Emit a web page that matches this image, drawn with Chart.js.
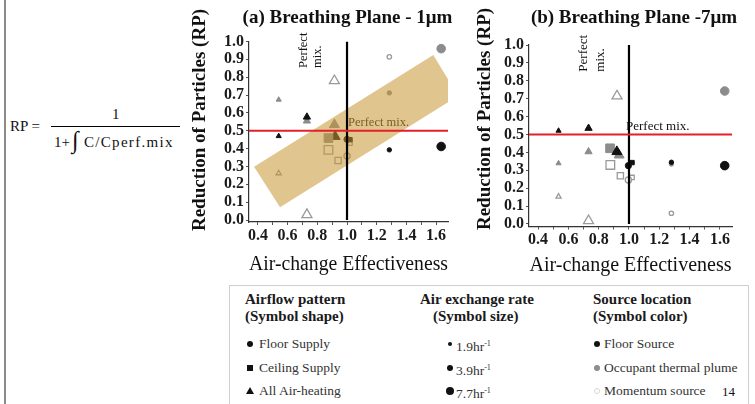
<!DOCTYPE html>
<html>
<head>
<meta charset="utf-8">
<script src="https://cdn.jsdelivr.net/npm/chart.js@4.4.1/dist/chart.umd.min.js"></script>
<style>
  body { margin: 0; background: #fff; }
  #page { position: relative; width: 755px; height: 404px; overflow: hidden; font-family: "Liberation Serif", "Times New Roman", serif; color: #111; }
  .abs { position: absolute; white-space: nowrap; }
  .hd { font-weight: bold; font-size: 15px; line-height: 18px; color: #1a1a1a; }
  .it { font-size: 13.5px; line-height: 16px; color: #333; }
  .mk { position: absolute; }
  sup { font-size: 8px; vertical-align: 5px; }
</style>
</head>
<body>
<div id="page">
  <div class="abs" style="left:4px;top:0;width:2px;height:404px;background:#8a8a8a"></div>

  <!-- RP formula -->
  <div class="abs" style="left:10px;top:117px;font-size:15px;line-height:18px">RP =</div>
  <div class="abs" style="left:112px;top:105px;font-size:15px;line-height:18px">1</div>
  <div class="abs" style="left:51px;top:126px;width:129px;height:1px;background:#000"></div>
  <div class="abs" style="left:54px;top:133px;font-size:15px;line-height:18px">1+</div>
  <div class="abs" style="left:72px;top:126px;font-size:24px;line-height:28px">∫</div>
  <div class="abs" style="left:84px;top:133px;font-size:15px;line-height:18px;letter-spacing:1.3px">C/Cperf.mix</div>

  <div class="abs" style="left:190px;top:0;width:275px;height:285px"><canvas id="chartA"></canvas></div>
  <div class="abs" style="left:470px;top:0;width:285px;height:285px"><canvas id="chartB"></canvas></div>

  <!-- legend -->
  <div class="abs" style="left:229px;top:285px;width:518px;height:130px;border:1px solid #cfcfcf"></div>
  <div class="abs hd" style="left:245px;top:290px">Airflow pattern</div>
  <div class="abs hd" style="left:245px;top:307px">(Symbol shape)</div>
  <div class="abs hd" style="left:420px;top:290px">Air exchange rate</div>
  <div class="abs hd" style="left:433px;top:307px">(Symbol size)</div>
  <div class="abs hd" style="left:593px;top:290px">Source location</div>
  <div class="abs hd" style="left:593px;top:307px">(Symbol color)</div>

  <div class="mk" style="left:247px;top:341px;width:6px;height:6px;border-radius:50%;background:#111"></div>
  <div class="abs it" style="left:259px;top:336px">Floor Supply</div>
  <div class="mk" style="left:247px;top:365px;width:6px;height:6px;background:#111"></div>
  <div class="abs it" style="left:259px;top:360px">Ceiling Supply</div>
  <div class="mk" style="left:246px;top:387px;width:0;height:0;border-left:4px solid transparent;border-right:4px solid transparent;border-bottom:7px solid #111"></div>
  <div class="abs it" style="left:259px;top:383px">All Air-heating</div>

  <div class="mk" style="left:448px;top:342px;width:4px;height:4px;border-radius:50%;background:#111"></div>
  <div class="abs it" style="left:456px;top:336px">1.9hr<sup>-1</sup></div>
  <div class="mk" style="left:447px;top:365px;width:6px;height:6px;border-radius:50%;background:#111"></div>
  <div class="abs it" style="left:456px;top:360px">3.9hr<sup>-1</sup></div>
  <div class="mk" style="left:446px;top:387px;width:8px;height:8px;border-radius:50%;background:#111"></div>
  <div class="abs it" style="left:456px;top:383px">7.7hr<sup>-1</sup></div>

  <div class="mk" style="left:594px;top:341px;width:6px;height:6px;border-radius:50%;background:#111"></div>
  <div class="abs it" style="left:604px;top:336px">Floor Source</div>
  <div class="mk" style="left:594px;top:365px;width:6px;height:6px;border-radius:50%;background:#8c8c8c"></div>
  <div class="abs it" style="left:604px;top:360px">Occupant thermal plume</div>
  <div class="mk" style="left:594px;top:388px;width:4px;height:4px;border-radius:50%;border:1px solid #d8d8d8"></div>
  <div class="abs it" style="left:604px;top:383px">Momentum source</div>
  <div class="abs" style="left:722px;top:384px;font-size:13px;line-height:16px">14</div>
</div>

<script>
// axis ranges and ticks
const xMin = 0.34, xMax = 1.68;
const xTicks = [0.4, 0.5, 0.6, 0.7, 0.8, 0.9, 1.0, 1.1, 1.2, 1.3, 1.4, 1.5, 1.6];
const yTicks = [0.0, 0.1, 0.2, 0.3, 0.4, 0.5, 0.6, 0.7, 0.8, 0.9, 1.0];
const perfectRP = 0.5;
const perfectACE = 1.0;

// (a) breathing plane, 1 um particles
// flow: F = floor supply, C = ceiling supply, H = all air-heating
// src: floor = floor source, plume = occupant thermal plume, mom = momentum source
const aACE = [0.54, 0.54, 0.54, 0.73, 0.73, 0.73, 0.915, 0.915, 0.92, 0.875, 0.875, 0.94, 1.02, 1.02, 1.0, 1.0, 1.285, 1.285, 1.285, 1.634, 1.634];
const aRP = [0.674, 0.470, 0.262, 0.555, 0.577, 0.030, 0.780, 0.534, 0.468, 0.459, 0.393, 0.333, 0.430, 0.450, 0.452, 0.358, 0.914, 0.712, 0.393, 0.960, 0.412];
const aFlow = ['H', 'H', 'H', 'H', 'H', 'H', 'H', 'H', 'H', 'C', 'C', 'C', 'C', 'C', 'F', 'F', 'F', 'F', 'F', 'F', 'F'];
const aRate = [1.9, 1.9, 1.9, 3.9, 3.9, 7.7, 7.7, 7.7, 7.7, 7.7, 7.7, 3.9, 1.9, 1.9, 3.9, 3.9, 1.9, 1.9, 1.9, 7.7, 7.7];
const aSrc = ['plume', 'floor', 'mom', 'plume', 'floor', 'mom', 'mom', 'plume', 'floor', 'plume', 'mom', 'mom', 'mom', 'floor', 'floor', 'mom', 'mom', 'plume', 'floor', 'plume', 'floor'];

// (b) breathing plane, 7 um particles
const bACE = [0.535, 0.535, 0.535, 0.733, 0.733, 0.733, 0.921, 0.875, 0.935, 0.92, 0.877, 0.943, 1.02, 1.02, 0.996, 0.996, 1.28, 1.28, 1.28, 1.632, 1.632];
const bRP = [0.521, 0.339, 0.153, 0.535, 0.404, 0.018, 0.715, 0.423, 0.385, 0.404, 0.330, 0.270, 0.343, 0.260, 0.326, 0.246, 0.335, 0.345, 0.060, 0.743, 0.326];
const bFlow = ['H', 'H', 'H', 'H', 'H', 'H', 'H', 'C', 'H', 'H', 'C', 'C', 'C', 'C', 'F', 'F', 'F', 'F', 'F', 'F', 'F'];
const bRate = [1.9, 1.9, 1.9, 3.9, 3.9, 7.7, 7.7, 7.7, 7.7, 7.7, 7.7, 3.9, 1.9, 1.9, 3.9, 3.9, 1.9, 1.9, 1.9, 7.7, 7.7];
const bSrc = ['floor', 'plume', 'mom', 'floor', 'plume', 'mom', 'mom', 'plume', 'plume', 'floor', 'mom', 'mom', 'floor', 'mom', 'floor', 'mom', 'plume', 'floor', 'mom', 'plume', 'floor'];

// shaded trend band in (a), corners in axis units
const bandACE = [0.374, 1.581, 1.749, 0.549, 0.374];
const bandRP = [0.299, 0.924, 0.695, 0.071, 0.299];

const shapeOf = { F: 'circle', C: 'rect', H: 'triangle' };
const shapeK = { F: 1, C: 1.42, H: 1.35 };
const baseR = { 1.9: 2.2, 3.9: 3.1, 7.7: 4.3 };
const fillOf = { floor: '#111', plume: '#8c8c8c', mom: '#ffffff' };
const lineOf = { floor: '#111', plume: '#8c8c8c', mom: '#9a9a9a' };
const serif = '"Liberation Serif", "Times New Roman", serif';

const decor = {
  id: 'decor',
  beforeDatasetsDraw(chart, args, o) {
    const ctx = chart.ctx;
    const xs = chart.scales.x, ys = chart.scales.y;
    ctx.save();
    ctx.fillStyle = '#111';
    ctx.textBaseline = 'middle';
    ctx.textAlign = 'center';
    ctx.font = 'bold 19px ' + serif;
    ctx.fillText(o.title, o.titleX, 18);

    ctx.save();
    ctx.translate(o.yTitleX, o.yTitleY);
    ctx.rotate(-Math.PI / 2);
    ctx.fillText('Reduction of Particles (RP)', 0, 0);
    ctx.restore();

    // "Perfect mix." next to the reference lines
    ctx.textAlign = 'left';
    ctx.font = o.pmFont + 'px ' + serif;
    ctx.fillText('Perfect mix.', xs.getPixelForValue(perfectACE) + o.pmDx, ys.getPixelForValue(perfectRP) + o.pmDy);

    ctx.save();
    ctx.translate(o.vX, o.vBottom);
    ctx.rotate(-Math.PI / 2);
    ctx.fillText('Perfect', 0, 0);
    ctx.fillText('mix.', 0, o.vGap);
    ctx.restore();
    ctx.restore();
  }
};

function makeChart(id, xs, ys, flow, rate, src, opt) {
  const pts = xs.map((x, i) => ({ x: x, y: ys[i] }));
  const datasets = [
    {
      data: pts,
      order: 3,
      pointStyle: flow.map(f => shapeOf[f]),
      pointRadius: flow.map((f, i) => baseR[rate[i]] * shapeK[f]),
      backgroundColor: src.map(s => fillOf[s]),
      borderColor: src.map(s => lineOf[s]),
      borderWidth: src.map(s => s === 'mom' ? 1.3 : 1)
    },
    {
      data: [{ x: xMin, y: perfectRP }, { x: xMax, y: perfectRP }],
      showLine: true, pointRadius: 0, borderColor: '#e3202a', borderWidth: 2, order: 0
    },
    {
      data: [{ x: perfectACE, y: 0 }, { x: perfectACE, y: 1 }],
      showLine: true, pointRadius: 0, borderColor: '#000', borderWidth: 2.2, order: 0
    }
  ];
  if (opt.band) {
    datasets.push({
      data: bandACE.map((x, i) => ({ x: x, y: bandRP[i] })),
      showLine: true, pointRadius: 0, borderWidth: 0, borderColor: 'rgba(0,0,0,0)',
      fill: 'shape', backgroundColor: 'rgba(200,150,50,0.55)', order: 1, clip: false
    });
  }
  const tickFont = { family: serif, size: 16, weight: 'bold' };
  return new Chart(document.getElementById(id), {
    type: 'scatter',
    data: { datasets: datasets },
    plugins: [decor],
    options: {
      responsive: true,
      maintainAspectRatio: false,
      animation: false,
      layout: { padding: { left: 0, top: opt.top, right: opt.right, bottom: 0 } },
      plugins: { legend: { display: false }, tooltip: { enabled: false }, decor: opt.decor },
      scales: {
        x: {
          type: 'linear', min: xMin, max: xMax,
          afterBuildTicks: s => { s.ticks = xTicks.map(v => ({ value: v })); },
          afterFit: s => { s.height = opt.xHeight; },
          ticks: {
            autoSkip: false, maxRotation: 0, padding: 1, color: '#1a1a1a', font: tickFont,
            callback: v => (Math.round(v * 10) % 2 === 0 ? v.toFixed(1) : '')
          },
          grid: { drawOnChartArea: false, tickLength: 3, color: '#555' },
          border: { color: '#333', width: 1.2 },
          title: {
            display: true, text: 'Air-change Effectiveness', color: '#111',
            font: { family: serif, size: 20 }, padding: { top: 0, bottom: opt.xTitlePad }
          }
        },
        y: {
          type: 'linear', min: opt.yMin, max: 1.0,
          afterBuildTicks: s => { s.ticks = yTicks.map(v => ({ value: v })); },
          afterFit: s => { s.width = 59; },
          ticks: { autoSkip: false, padding: 2, color: '#1a1a1a', font: tickFont, callback: v => v.toFixed(1) },
          grid: { drawOnChartArea: false, tickLength: 3, color: '#555' },
          border: { color: '#333', width: 1.2 }
        }
      }
    }
  });
}

makeChart('chartA', aACE, aRP, aFlow, aRate, aSrc, {
  band: true, top: 41.5, right: 17, xHeight: 63, xTitlePad: 8, yMin: -0.011,
  decor: { title: '(a) Breathing Plane - 1\u03bcm', titleX: 157.5, yTitleX: 10, yTitleY: 120,
           pmFont: 12.5, pmDx: 1, pmDy: -8, vX: 113.3, vBottom: 68, vGap: 14.4 }
});
makeChart('chartB', bACE, bRP, bFlow, bRate, bSrc, {
  band: false, top: 45, right: 23, xHeight: 58.5, xTitlePad: 7, yMin: -0.014,
  decor: { title: '(b) Breathing Plane -7\u03bcm', titleX: 164, yTitleX: 15, yTitleY: 119,
           pmFont: 13, pmDx: -3, pmDy: -7.5, vX: 114, vBottom: 71.7, vGap: 16.5 }
});
</script>
</body>
</html>
